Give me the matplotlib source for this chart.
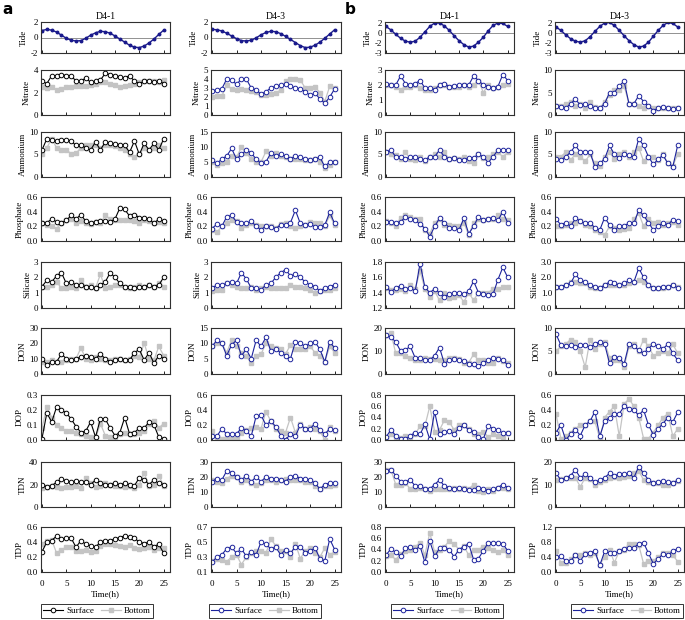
import numpy as np
import matplotlib
matplotlib.use('Agg')
import matplotlib.pyplot as plt
from matplotlib.ticker import FormatStrFormatter
from matplotlib.lines import Line2D

plt.rcParams['font.family'] = ['Liberation Serif', 'DejaVu Serif']

t = np.arange(26)  # sampling hour

# ---- a, station D4-1 ----
a1_tide = [0.9, 1.05, 0.95, 0.7, 0.3, -0.1, -0.35, -0.45, -0.4, -0.1, 0.3, 0.6, 0.8, 0.75, 0.55, 0.2,
           -0.2, -0.6, -1.0, -1.25, -1.3, -1.1, -0.7, -0.2, 0.4, 0.95]
a1_nitrate_s = [3.0, 2.8, 3.5, 3.5, 3.6, 3.5, 3.5, 3.0, 3.0, 3.3, 2.9, 3.0, 3.1, 3.7, 3.6, 3.5,
                3.4, 3.3, 3.5, 3.0, 2.8, 3.0, 3.0, 2.9, 3.0, 2.8]
a1_nitrate_b = [2.5, 2.4, 2.5, 2.2, 2.3, 2.5, 2.5, 2.6, 2.6, 2.6, 2.7, 2.8, 2.9, 2.9, 2.8, 2.7,
                2.5, 2.6, 2.7, 2.8, 2.9, 3.0, 3.0, 3.0, 2.9, 3.1]
a1_ammonium_s = [6.0, 8.5, 8.2, 8.0, 8.3, 8.3, 8.0, 7.0, 7.0, 6.5, 6.0, 7.8, 6.0, 7.8, 7.5, 7.3,
                 7.2, 7.0, 5.5, 8.0, 5.0, 7.5, 6.0, 7.5, 6.0, 8.5]
a1_ammonium_b = [5.0, 6.5, 8.5, 6.5, 6.0, 6.0, 5.2, 5.3, 6.5, 7.0, 7.2, 7.0, 6.5, 7.0, 7.0, 6.8,
                 6.5, 6.0, 5.0, 4.5, 5.0, 6.5, 6.0, 6.5, 7.0, 6.5]
a1_phosphate_s = [0.24, 0.25, 0.30, 0.26, 0.25, 0.28, 0.35, 0.30, 0.36, 0.27, 0.25, 0.26, 0.27, 0.27,
                  0.26, 0.30, 0.45, 0.43, 0.34, 0.36, 0.32, 0.31, 0.30, 0.24, 0.30, 0.27]
a1_phosphate_b = [0.25, 0.22, 0.20, 0.17, 0.25, 0.28, 0.30, 0.25, 0.27, 0.25, 0.23, 0.26, 0.24, 0.35,
                  0.30, 0.28, 0.28, 0.29, 0.28, 0.27, 0.25, 0.28, 0.27, 0.25, 0.26, 0.24]
a1_silicate_s = [1.4, 1.8, 1.7, 2.1, 2.3, 1.6, 1.7, 1.5, 1.5, 1.4, 1.4, 1.3, 1.5, 1.7, 2.3, 2.0,
                 1.6, 1.4, 1.4, 1.3, 1.4, 1.4, 1.5, 1.4, 1.5, 2.0]
a1_silicate_b = [1.4, 1.4, 1.5, 1.7, 1.3, 1.3, 1.4, 1.3, 1.8, 1.4, 1.5, 1.3, 2.2, 1.3, 1.4, 1.5,
                 1.5, 1.4, 1.3, 1.4, 1.5, 1.4, 1.5, 1.4, 1.6, 1.4]
a1_don_s = [10, 6, 8, 8, 13, 10, 9, 10, 11, 12, 11, 10, 13, 10, 8, 9, 10, 9, 9, 14, 16, 9, 14, 7, 12, 10]
a1_don_b = [8, 8, 9, 8, 8, 9, 10, 10, 17, 10, 9, 11, 10, 9, 9, 10, 10, 9, 10, 12, 11, 20, 10, 9, 18, 12]
a1_dop_s = [0.01, 0.18, 0.12, 0.22, 0.20, 0.18, 0.14, 0.09, 0.05, 0.06, 0.12, 0.02, 0.14, 0.14,
            0.08, 0.03, 0.05, 0.15, 0.04, 0.05, 0.08, 0.08, 0.12, 0.10, 0.02, 0.01]
a1_dop_b = [0.08, 0.22, 0.15, 0.10, 0.08, 0.06, 0.06, 0.05, 0.04, 0.03, 0.02, 0.01, 0.11, 0.03,
            0.02, 0.01, 0.04, 0.05, 0.04, 0.04, 0.05, 0.06, 0.11, 0.13, 0.08, 0.11]
a1_tdn_s = [20, 18, 19, 22, 25, 23, 22, 23, 22, 22, 20, 24, 21, 20, 20, 21, 20, 21, 20, 19, 26, 24, 20, 24, 21, 20]
a1_tdn_b = [17, 18, 19, 18, 17, 18, 18, 19, 17, 26, 21, 18, 19, 21, 20, 19, 19, 18, 19, 17, 20, 30, 19, 20, 28, 19]
a1_tdp_s = [0.27, 0.40, 0.42, 0.48, 0.44, 0.45, 0.45, 0.33, 0.42, 0.37, 0.35, 0.33, 0.40, 0.42,
            0.42, 0.44, 0.46, 0.48, 0.47, 0.45, 0.40, 0.38, 0.40, 0.34, 0.37, 0.25]
a1_tdp_b = [0.37, 0.42, 0.43, 0.25, 0.30, 0.33, 0.34, 0.28, 0.28, 0.30, 0.27, 0.28, 0.35, 0.37,
            0.37, 0.36, 0.35, 0.34, 0.36, 0.32, 0.31, 0.32, 0.33, 0.30, 0.32, 0.32]

# ---- a, station D4-3 ----
a2_tide = [1.05, 1.0, 0.85, 0.55, 0.2, -0.15, -0.4, -0.45, -0.35, -0.05, 0.35, 0.65, 0.8, 0.75, 0.5, 0.15,
           -0.25, -0.65, -1.05, -1.3, -1.25, -1.0, -0.6, -0.1, 0.45, 1.0]
a2_nitrate_s = [2.7, 2.8, 2.9, 4.0, 3.9, 3.4, 4.0, 4.0, 3.0, 2.8, 2.3, 2.6, 3.0, 3.2, 3.3, 3.4,
                3.2, 3.0, 2.9, 2.6, 2.2, 2.4, 1.8, 1.3, 2.0, 2.9]
a2_nitrate_b = [2.0, 2.1, 2.1, 3.3, 2.9, 2.8, 2.9, 2.8, 2.7, 2.6, 2.2, 2.2, 2.3, 2.4, 2.8, 3.8,
                4.0, 4.0, 3.9, 3.0, 3.0, 3.1, 2.5, 1.5, 3.2, 3.0]
a2_ammonium_s = [5.5, 4.5, 6.0, 7.0, 9.5, 6.0, 7.5, 9.0, 8.0, 6.0, 4.5, 5.0, 8.0, 7.0, 7.5, 7.0,
                 6.0, 7.0, 6.5, 6.0, 5.5, 6.0, 6.5, 3.5, 5.0, 5.0]
a2_ammonium_b = [5.0, 4.0, 4.5, 5.0, 7.0, 6.5, 10.0, 8.0, 6.0, 5.0, 5.0, 8.5, 7.0, 8.0, 7.0, 6.5,
                 6.0, 6.0, 6.0, 5.5, 5.5, 6.0, 5.0, 3.0, 4.0, 5.0]
a2_phosphate_s = [0.17, 0.23, 0.20, 0.33, 0.35, 0.26, 0.24, 0.24, 0.27, 0.20, 0.15, 0.21, 0.19, 0.17,
                  0.22, 0.22, 0.25, 0.42, 0.24, 0.22, 0.23, 0.19, 0.19, 0.22, 0.39, 0.24]
a2_phosphate_b = [0.15, 0.12, 0.20, 0.25, 0.28, 0.27, 0.18, 0.22, 0.24, 0.22, 0.20, 0.20, 0.20, 0.18,
                  0.23, 0.25, 0.20, 0.18, 0.20, 0.22, 0.26, 0.24, 0.24, 0.20, 0.35, 0.22]
a2_silicate_s = [1.3, 1.5, 1.5, 1.6, 1.7, 1.6, 2.3, 1.9, 1.3, 1.3, 1.2, 1.5, 1.6, 2.0, 2.3, 2.5,
                 2.1, 2.2, 2.0, 1.7, 1.5, 1.4, 1.1, 1.3, 1.4, 1.5]
a2_silicate_b = [1.1, 1.2, 1.2, 1.6, 1.5, 1.4, 1.3, 1.3, 1.4, 1.2, 1.3, 1.4, 1.3, 1.3, 1.3, 1.3,
                 1.5, 1.4, 1.4, 1.3, 1.2, 1.0, 1.1, 1.2, 1.2, 1.3]
a2_don_s = [9, 11, 10, 6, 9.5, 11, 6, 8, 5, 11, 9, 12, 7.5, 8, 7, 6, 5, 10.5, 10, 9, 10, 10.5, 8, 4, 10.5, 8.5]
a2_don_b = [9, 10, 10, 7, 11, 9, 7, 6, 3.5, 6, 6.5, 10, 9, 8.5, 8, 6.5, 9.5, 8, 8, 8, 9, 7, 6, 4, 9, 7]
a2_dop_s = [0.05, 0.05, 0.15, 0.08, 0.08, 0.08, 0.16, 0.12, 0.05, 0.32, 0.33, 0.20, 0.25, 0.18,
            0.06, 0.00, 0.08, 0.05, 0.20, 0.15, 0.15, 0.22, 0.13, 0.08, 0.15, 0.13]
a2_dop_b = [0.12, 0.02, 0.02, 0.03, 0.02, 0.03, 0.10, 0.14, 0.16, 0.17, 0.15, 0.38, 0.25, 0.15,
            0.12, 0.10, 0.30, 0.10, 0.22, 0.15, 0.18, 0.15, 0.12, 0.00, 0.17, 0.12]
a2_tdn_s = [17, 19, 18, 24, 23, 20, 18, 21, 17, 20, 17, 20, 19, 19, 18, 17, 20, 21, 19, 19, 18, 16, 12, 15, 16, 16]
a2_tdn_b = [18, 17, 16, 19, 21, 20, 17, 18, 16, 15, 16, 18, 18, 17, 18, 19, 18, 18, 18, 17, 17, 14, 12, 14, 14, 15]
a2_tdp_s = [0.23, 0.30, 0.33, 0.41, 0.43, 0.35, 0.41, 0.31, 0.37, 0.33, 0.50, 0.47, 0.41, 0.43,
            0.33, 0.40, 0.35, 0.44, 0.44, 0.36, 0.38, 0.42, 0.28, 0.25, 0.54, 0.40]
a2_tdp_b = [0.25, 0.27, 0.26, 0.24, 0.30, 0.33, 0.20, 0.30, 0.36, 0.38, 0.38, 0.35, 0.54, 0.45,
            0.38, 0.38, 0.30, 0.48, 0.28, 0.38, 0.42, 0.35, 0.30, 0.42, 0.33, 0.37]

# ---- b, station D4-1 ----
b1_tide = [1.4, 0.7, -0.2, -1.0, -1.6, -1.8, -1.6, -0.8, 0.3, 1.4, 2.1, 2.1, 1.5, 0.6, -0.5, -1.5,
           -2.3, -2.8, -2.6, -1.8, -0.8, 0.5, 1.6, 2.1, 2.0, 1.4]
b1_nitrate_s = [2.1, 2.0, 2.0, 2.6, 2.1, 2.0, 2.1, 2.3, 1.8, 1.8, 1.7, 2.0, 2.1, 1.9, 1.95, 2.0,
                2.0, 2.0, 2.6, 2.3, 2.0, 1.9, 1.8, 1.9, 2.7, 2.3]
b1_nitrate_b = [2.0, 2.0, 1.9, 1.7, 1.9, 1.9, 2.0, 1.8, 1.7, 1.7, 1.8, 2.0, 2.0, 1.9, 1.9, 1.9,
                2.0, 1.9, 2.0, 2.3, 1.5, 2.0, 1.8, 1.9, 2.0, 2.1]
b1_ammonium_s = [5.5, 6.0, 4.5, 4.5, 4.0, 4.5, 4.5, 4.0, 3.8, 4.5, 4.5, 6.0, 4.5, 4.0, 4.3, 3.8,
                 3.8, 4.2, 4.3, 5.0, 4.5, 3.2, 4.5, 6.0, 6.0, 6.0]
b1_ammonium_b = [5.5, 5.0, 4.8, 4.0, 5.5, 4.0, 3.8, 4.5, 3.5, 4.5, 5.0, 4.5, 5.5, 4.0, 4.3, 4.0,
                 4.5, 3.5, 3.0, 5.0, 4.3, 4.5, 5.0, 5.5, 4.5, 5.5]
b1_phosphate_s = [0.26, 0.26, 0.25, 0.26, 0.33, 0.30, 0.28, 0.23, 0.17, 0.06, 0.20, 0.31, 0.25, 0.18,
                  0.18, 0.15, 0.31, 0.10, 0.20, 0.33, 0.28, 0.30, 0.32, 0.28, 0.40, 0.25]
b1_phosphate_b = [0.27, 0.25, 0.20, 0.32, 0.35, 0.33, 0.30, 0.30, 0.15, 0.10, 0.25, 0.30, 0.22, 0.22,
                  0.20, 0.20, 0.25, 0.08, 0.25, 0.30, 0.28, 0.30, 0.30, 0.35, 0.30, 0.28]
b1_silicate_s = [1.48, 1.41, 1.46, 1.49, 1.45, 1.46, 1.42, 1.78, 1.47, 1.40, 1.45, 1.40, 1.35, 1.38,
                 1.40, 1.40, 1.38, 1.42, 1.55, 1.40, 1.38, 1.37, 1.38, 1.57, 1.73, 1.60]
b1_silicate_b = [1.46, 1.43, 1.43, 1.45, 1.42, 1.50, 1.45, 1.68, 1.45, 1.35, 1.42, 1.30, 1.40, 1.33,
                 1.35, 1.37, 1.28, 1.40, 1.30, 1.40, 1.40, 1.40, 1.45, 1.45, 1.47, 1.48]
b1_don_s = [17, 16, 14, 10, 10.5, 12, 7, 7, 6, 6, 8, 11.5, 4.5, 6, 6.5, 6, 5.5, 4.5, 4.5, 3.5, 5, 6, 7, 6.5, 6, 4]
b1_don_b = [17, 18, 9, 9, 8, 7, 6, 6, 7, 6.5, 6.5, 6, 6, 7, 7, 6.5, 5, 5, 8.5, 6, 6, 5, 5, 7, 5.5, 5]
b1_dop_s = [0.05, 0.18, 0.08, 0.02, 0.01, 0.08, 0.13, 0.10, 0.28, 0.01, 0.50, 0.10, 0.14, 0.16,
            0.10, 0.22, 0.26, 0.18, 0.15, 0.05, 0.02, 0.25, 0.20, 0.18, 0.12, 0.13]
b1_dop_b = [0.02, 0.10, 0.05, 0.03, 0.08, 0.05, 0.10, 0.25, 0.25, 0.60, 0.15, 0.18, 0.35, 0.32,
            0.18, 0.27, 0.27, 0.20, 0.10, 0.10, 0.15, 0.05, 0.10, 0.08, 0.06, 0.12]
b1_tdn_s = [24, 25, 21, 17, 17, 18, 14, 14, 12, 12, 15, 18, 14, 13, 12, 12.5, 12, 11.5, 11.5, 13, 12, 11, 12, 13, 15, 13]
b1_tdn_b = [25, 25, 15, 15, 16, 12, 12, 13, 12, 11, 12, 12, 12, 12, 13, 12, 13, 12, 15, 11, 10, 12, 11, 13, 13, 12]
b1_tdp_s = [0.30, 0.41, 0.35, 0.28, 0.42, 0.44, 0.39, 0.46, 0.17, 0.55, 0.28, 0.42, 0.43, 0.40,
            0.27, 0.40, 0.45, 0.50, 0.22, 0.24, 0.38, 0.52, 0.52, 0.52, 0.50, 0.38]
b1_tdp_b = [0.28, 0.30, 0.22, 0.32, 0.38, 0.40, 0.45, 0.52, 0.30, 0.70, 0.35, 0.40, 0.45, 0.55,
            0.50, 0.40, 0.46, 0.30, 0.40, 0.40, 0.45, 0.42, 0.40, 0.35, 0.40, 0.30]

# ---- b, station D4-3 ----
b2_tide = [1.3, 0.6, -0.3, -1.1, -1.6, -1.8, -1.5, -0.7, 0.4, 1.4, 2.1, 2.2, 1.6, 0.6, -0.5, -1.5,
           -2.3, -2.8, -2.6, -1.8, -0.6, 0.6, 1.6, 2.2, 2.0, 1.3]
b2_nitrate_s = [2.0, 1.8, 1.5, 2.5, 3.5, 2.2, 2.4, 2.0, 1.5, 1.5, 2.5, 5.0, 5.0, 6.5, 7.5, 2.5,
                2.5, 4.3, 3.0, 2.0, 1.0, 1.5, 1.8, 1.5, 1.3, 1.5]
b2_nitrate_b = [2.0, 2.0, 2.5, 3.0, 2.0, 2.5, 1.5, 2.8, 1.8, 1.5, 3.0, 4.5, 5.5, 5.5, 6.5, 2.5,
                2.5, 2.0, 1.5, 2.0, 1.5, 1.5, 1.5, 1.5, 1.5, 1.5]
b2_ammonium_s = [4.0, 3.8, 4.5, 5.5, 7.0, 5.5, 5.5, 5.5, 2.2, 3.0, 4.0, 7.0, 5.0, 4.2, 5.0, 4.8,
                 4.5, 8.5, 7.0, 4.5, 2.8, 4.0, 4.8, 3.0, 2.3, 7.0]
b2_ammonium_b = [4.5, 4.5, 5.5, 3.8, 5.0, 4.5, 3.5, 5.0, 3.0, 2.5, 4.5, 5.5, 4.0, 5.0, 5.5, 4.5,
                 5.5, 6.5, 3.5, 4.5, 4.5, 3.8, 5.0, 3.0, 2.5, 5.0]
b2_phosphate_s = [0.30, 0.22, 0.25, 0.20, 0.31, 0.27, 0.24, 0.25, 0.18, 0.15, 0.32, 0.22, 0.15, 0.20,
                  0.20, 0.25, 0.24, 0.42, 0.35, 0.25, 0.15, 0.20, 0.25, 0.22, 0.29, 0.27]
b2_phosphate_b = [0.20, 0.20, 0.22, 0.25, 0.25, 0.27, 0.22, 0.20, 0.15, 0.12, 0.08, 0.20, 0.18, 0.15,
                  0.16, 0.18, 0.30, 0.38, 0.20, 0.30, 0.25, 0.26, 0.22, 0.25, 0.26, 0.22]
b2_silicate_s = [1.4, 1.4, 1.5, 1.6, 2.2, 1.8, 1.7, 1.5, 1.4, 1.3, 1.5, 1.7, 1.6, 1.5, 1.6, 1.8,
                 1.7, 2.6, 2.0, 1.5, 1.3, 1.3, 1.4, 1.4, 1.5, 1.3]
b2_silicate_b = [1.4, 1.4, 1.5, 1.7, 1.7, 1.6, 1.6, 1.4, 1.3, 1.3, 1.5, 1.5, 1.5, 1.5, 1.5, 1.6,
                 1.7, 1.8, 1.7, 1.5, 1.3, 1.3, 1.3, 1.4, 1.5, 1.4]
b2_don_s = [8.7, 6.3, 6.0, 6.2, 5.8, 6.2, 6.3, 5.8, 6.5, 7.0, 6.5, 2.3, 3.8, 3.5, 2.2, 6.5,
            6.0, 5.2, 4.5, 5.5, 6.5, 6.0, 5.5, 6.5, 4.5, 3.0]
b2_don_b = [5.0, 6.0, 6.5, 7.5, 7.0, 5.0, 1.5, 7.5, 5.5, 6.5, 7.0, 3.5, 3.0, 3.0, 1.5, 6.0,
            6.5, 5.0, 7.5, 6.0, 4.0, 4.5, 5.0, 4.5, 6.5, 4.5]
b2_dop_s = [0.10, 0.20, 0.00, 0.08, 0.14, 0.06, 0.20, 0.25, 0.38, 0.05, 0.25, 0.30, 0.35, 0.35,
            0.45, 0.42, 0.40, 0.33, 0.40, 0.20, 0.07, 0.15, 0.22, 0.30, 0.24, 0.37]
b2_dop_b = [0.35, 0.02, 0.05, 0.10, 0.15, 0.20, 0.20, 0.25, 0.25, 0.02, 0.30, 0.38, 0.45, 0.05,
            0.48, 0.55, 0.45, 0.30, 0.02, 0.02, 0.10, 0.20, 0.30, 0.35, 0.05, 0.15]
b2_tdn_s = [15, 12, 13, 14, 16.5, 13, 14.5, 13, 11, 12, 13, 15, 14, 14.5, 14.5, 15, 13, 18, 15, 12,
            10.5, 11, 11.5, 11, 10.5, 12]
b2_tdn_b = [12, 12.5, 13, 13, 13, 9, 13, 12.5, 10, 11, 12, 13, 13.5, 13, 13.5, 14, 15, 16, 12, 11,
            10.5, 10.5, 10, 10, 10.5, 11.5]
b2_tdp_s = [0.40, 0.42, 0.30, 0.30, 0.45, 0.30, 0.48, 0.52, 0.55, 0.18, 0.55, 0.50, 0.50, 0.55,
            0.62, 0.65, 0.65, 0.75, 0.78, 0.50, 0.22, 0.35, 0.48, 0.45, 0.55, 0.62]
b2_tdp_b = [0.55, 0.25, 0.25, 0.35, 0.45, 0.45, 0.50, 0.45, 0.50, 0.20, 0.40, 0.60, 0.25, 0.55,
            0.60, 0.75, 0.75, 0.72, 0.22, 0.30, 0.30, 0.40, 0.50, 0.50, 0.45, 0.28]

row_names = ['Tide', 'Nitrate', 'Ammonium', 'Phosphate', 'Silicate', 'DON', 'DOP', 'TDN', 'TDP']
b_tide_ticks = [-4, -2, 0, 2]
b_tide_labels = ['-3', '-2', '0', '2']

columns = [
    dict(title='D4-1', color='black', tide=a1_tide,
         data=[(a1_nitrate_s, a1_nitrate_b), (a1_ammonium_s, a1_ammonium_b), (a1_phosphate_s, a1_phosphate_b),
               (a1_silicate_s, a1_silicate_b), (a1_don_s, a1_don_b), (a1_dop_s, a1_dop_b),
               (a1_tdn_s, a1_tdn_b), (a1_tdp_s, a1_tdp_b)],
         yax=[((-2, 2), [-2, 0, 2], '%g'), ((0, 4), [0, 2, 4], '%g'), ((0, 10), [0, 5, 10], '%g'),
              ((0, 0.6), [0, .2, .4, .6], '%.1f'), ((0, 3), [0, 1, 2, 3], '%g'), ((0, 30), [0, 10, 20, 30], '%g'),
              ((0, 0.3), [0, .1, .2, .3], '%.1f'), ((0, 40), [0, 20, 40], '%g'), ((0, 0.6), [0, .2, .4, .6], '%.1f')]),
    dict(title='D4-3', color='#1c239c', tide=a2_tide,
         data=[(a2_nitrate_s, a2_nitrate_b), (a2_ammonium_s, a2_ammonium_b), (a2_phosphate_s, a2_phosphate_b),
               (a2_silicate_s, a2_silicate_b), (a2_don_s, a2_don_b), (a2_dop_s, a2_dop_b),
               (a2_tdn_s, a2_tdn_b), (a2_tdp_s, a2_tdp_b)],
         yax=[((-2, 2), [-2, 0, 2], '%g'), ((0, 5), [0, 1, 2, 3, 4, 5], '%g'), ((0, 15), [0, 5, 10, 15], '%g'),
              ((0, 0.6), [0, .2, .4, .6], '%.1f'), ((0, 3), [0, 1, 2, 3], '%g'), ((0, 15), [0, 5, 10, 15], '%g'),
              ((0, 0.6), [0, .2, .4, .6], '%.1f'), ((0, 30), [0, 10, 20, 30], '%g'),
              ((0.1, 0.7), [.1, .3, .5, .7], '%.1f')]),
    dict(title='D4-1', color='#1c239c', tide=b1_tide,
         data=[(b1_nitrate_s, b1_nitrate_b), (b1_ammonium_s, b1_ammonium_b), (b1_phosphate_s, b1_phosphate_b),
               (b1_silicate_s, b1_silicate_b), (b1_don_s, b1_don_b), (b1_dop_s, b1_dop_b),
               (b1_tdn_s, b1_tdn_b), (b1_tdp_s, b1_tdp_b)],
         yax=[((-4, 2.3), b_tide_ticks, b_tide_labels), ((0, 3), [0, 1, 2, 3], '%g'), ((0, 10), [0, 5, 10], '%g'),
              ((0, 0.6), [0, .2, .4, .6], '%.1f'), ((1.2, 1.8), [1.2, 1.4, 1.6, 1.8], '%.1f'),
              ((0, 20), [0, 10, 20], '%g'), ((0, 0.8), [0, .2, .4, .6, .8], '%.1f'),
              ((0, 30), [0, 10, 20, 30], '%g'), ((0, 0.8), [0, .2, .4, .6, .8], '%.1f')]),
    dict(title='D4-3', color='#1c239c', tide=b2_tide,
         data=[(b2_nitrate_s, b2_nitrate_b), (b2_ammonium_s, b2_ammonium_b), (b2_phosphate_s, b2_phosphate_b),
               (b2_silicate_s, b2_silicate_b), (b2_don_s, b2_don_b), (b2_dop_s, b2_dop_b),
               (b2_tdn_s, b2_tdn_b), (b2_tdp_s, b2_tdp_b)],
         yax=[((-4, 2.3), b_tide_ticks, b_tide_labels), ((0, 10), [0, 5, 10], '%g'), ((0, 10), [0, 5, 10], '%g'),
              ((0, 0.6), [0, .2, .4, .6], '%.1f'), ((0, 3), [0, 1, 2, 3], '%.1f'),
              ((0, 10), [0, 5, 10], '%g'), ((0, 0.6), [0, .2, .4, .6], '%.1f'),
              ((0, 20), [0, 10, 20], '%g'), ((0, 1.2), [0, .4, .8, 1.2], '%.1f')]),
]

W, H = 685, 620
col_x = [(41, 170), (211, 341), (385, 514), (555, 684)]
row_y = [(22, 53), (70, 115), (132, 177), (197, 241), (262, 308), (328, 374), (395, 440), (462, 507), (527, 572)]
legend_cx = [97, 265, 447, 627]
gray = '#c4c4c4'
fs = 6.5

fig = plt.figure(figsize=(W / 100, H / 100), dpi=100)

for ci, col in enumerate(columns):
    x0, x1 = col_x[ci]
    for ri in range(9):
        y0, y1 = row_y[ri]
        ax = fig.add_axes([x0 / W, 1 - y1 / H, (x1 - x0) / W, (y1 - y0) / H])
        lim, ticks, fmt = col['yax'][ri]
        if ri == 0:
            ax.axhline(0, color='#808080', lw=0.6)
            ax.plot(t, col['tide'], color='#1a1a8c', lw=1.0, marker='o', ms=1.8)
            ax.set_title(col['title'], fontsize=fs + 0.5, pad=2)
        else:
            surf, bott = col['data'][ri - 1]
            ax.plot(t, bott, color=gray, lw=0.9, marker='s', ms=3.2, mec=gray, mfc=gray)
            ax.plot(t, surf, color=col['color'], lw=0.8, marker='o', ms=3.3, mfc='white',
                    mec=col['color'], mew=0.7)
        ax.set_xlim(-0.2, 26.3)
        ax.set_ylim(*lim)
        ax.set_yticks(ticks)
        if isinstance(fmt, list):
            ax.set_yticklabels(fmt)
        else:
            ax.yaxis.set_major_formatter(FormatStrFormatter(fmt))
        ax.set_xticks([0, 5, 10, 15, 20, 25])
        ax.tick_params(axis='x', direction='in', length=2.5, width=0.6, labelsize=fs, pad=6)
        ax.tick_params(axis='y', direction='out', length=0, labelsize=fs, pad=2)
        if ri < 8:
            ax.tick_params(axis='x', labelbottom=False)
        else:
            ax.set_xlabel('Time(h)', fontsize=fs, labelpad=1)
        ax.set_ylabel(row_names[ri], fontsize=fs, labelpad=2)
        for sp in ax.spines.values():
            sp.set_linewidth(0.8)
            sp.set_color('#303030')

    handles = [Line2D([], [], color=col['color'], lw=0.8, marker='o', ms=3.3, mfc='white',
                      mec=col['color'], mew=0.7),
               Line2D([], [], color=gray, lw=0.9, marker='s', ms=3.2, mec=gray, mfc=gray)]
    leg = fig.legend(handles, ['Surface', 'Bottom'], loc='center', ncol=2, fontsize=fs,
                     bbox_to_anchor=(legend_cx[ci] / W, 1 - 611 / H), frameon=True, fancybox=False,
                     handlelength=2.2, columnspacing=0.8, handletextpad=0.3, borderpad=0.3)
    leg.get_frame().set_edgecolor('black')
    leg.get_frame().set_linewidth(0.7)

fig.text(2 / W, 1 - 10 / H, 'a', fontsize=11, fontweight='bold', family='DejaVu Sans', va='center')
fig.text(345 / W, 1 - 10 / H, 'b', fontsize=11, fontweight='bold', family='DejaVu Sans', va='center')

fig.savefig('out.png', dpi=100)
